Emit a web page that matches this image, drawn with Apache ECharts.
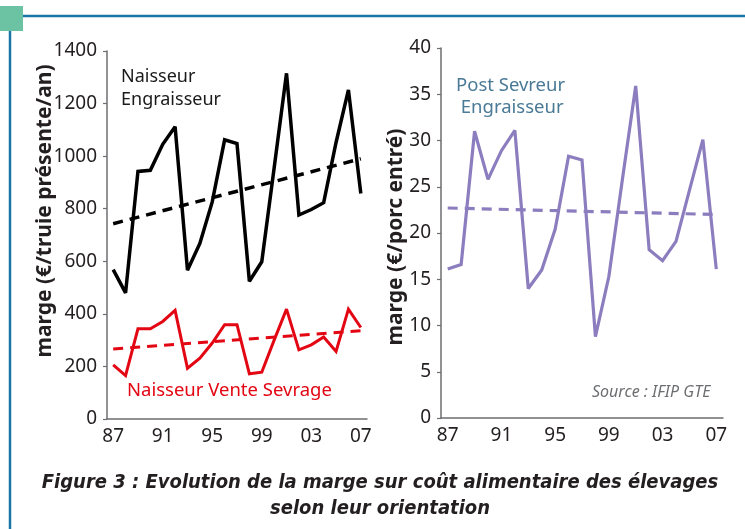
<!DOCTYPE html>
<html>
<head>
    <meta charset="utf-8">
    <title>Marge sur coût alimentaire</title>
    <style>
        html, body { margin: 0; padding: 0; background: #fff; }
        #chart { width: 745px; height: 529px; }
    </style>
</head>
<body>
    <div id="chart"></div>
    <script src="https://cdn.jsdelivr.net/npm/echarts@6/dist/echarts.min.js"></script>
    <script>
        const chart = echarts.init(document.getElementById('chart'));

        // années 1987 - 2007
        const years = ['87', '88', '89', '90', '91', '92', '93', '94', '95', '96', '97',
            '98', '99', '00', '01', '02', '03', '04', '05', '06', '07'];

        // €/truie présente/an
        const naisseurEngraisseur = [568, 480, 942, 946, 1045, 1112, 566, 668, 826, 1062, 1048,
            524, 598, 955, 1315, 776, 797, 823, 1052, 1252, 858];
        const naisseurEngraisseurTrend = [743, null, null, null, null, null, null, null, null, null, null,
            null, null, null, null, null, null, null, null, null, 990];
        const naisseurVente = [206, 165, 343, 343, 371, 413, 193, 231, 289, 359, 359,
            172, 178, 300, 418, 263, 282, 312, 257, 418, 348];
        const naisseurVenteTrend = [266, null, null, null, null, null, null, null, null, null, null,
            null, null, null, null, null, null, null, null, null, 336];

        // €/porc entré
        const postSevreur = [16.1, 16.6, 31.0, 25.8, 28.9, 31.1, 14.0, 16.0, 20.4, 28.3, 27.9,
            8.8, 15.3, 25.7, 35.9, 18.2, 17.0, 19.1, 24.6, 30.1, 16.1];
        const postSevreurTrend = [22.7, null, null, null, null, null, null, null, null, null, null,
            null, null, null, null, null, null, null, null, null, 22.0];

        const font = 'Noto Sans';
        const axisColor = '#6d6e71';
        const textColor = '#231f20';

        function xAxis(gridIndex) {
            return {
                type: 'category',
                gridIndex: gridIndex,
                data: years,
                boundaryGap: true,
                axisLine: { lineStyle: { color: axisColor, width: 1.5 } },
                axisTick: { interval: 0, length: 4, lineStyle: { color: axisColor, width: 1.2 } },
                axisLabel: { interval: 3, margin: 8, color: textColor, fontFamily: font, fontSize: 19 }
            };
        }

        function yAxis(gridIndex, max, interval) {
            return {
                type: 'value',
                gridIndex: gridIndex,
                min: 0,
                max: max,
                interval: interval,
                splitLine: { show: false },
                axisLine: { show: true, lineStyle: { color: axisColor, width: 1.5 } },
                axisTick: { show: true, length: 4, lineStyle: { color: axisColor, width: 1.2 } },
                axisLabel: {
                    margin: 10, color: textColor, fontFamily: font, fontSize: 19,
                    formatter: v => String(v)
                }
            };
        }

        function line(xi, data, color, width, dashed) {
            return {
                type: 'line',
                xAxisIndex: xi,
                yAxisIndex: xi,
                data: data,
                symbol: 'none',
                connectNulls: true,
                silent: true,
                lineStyle: {
                    color: color,
                    width: width,
                    type: dashed ? [10, 7] : 'solid',
                    join: 'miter',
                    miterLimit: 2.5,
                    cap: 'butt'
                },
                z: dashed ? 3 : 2
            };
        }

        const option = {
            backgroundColor: '#fff',
            animation: false,
            grid: [
                { left: 107, top: 51, width: 260, height: 368 },
                { left: 441, top: 48, width: 282, height: 370 }
            ],
            xAxis: [xAxis(0), xAxis(1)],
            yAxis: [yAxis(0, 1400, 200), yAxis(1, 40, 5)],
            series: [
                line(0, naisseurEngraisseur, '#000000', 3.5, false),
                line(0, naisseurEngraisseurTrend, '#000000', 3.5, true),
                line(0, naisseurVente, '#e30613', 3, false),
                line(0, naisseurVenteTrend, '#e30613', 3, true),
                line(1, postSevreur, '#8c7dbf', 3.2, false),
                line(1, postSevreurTrend, '#8c7dbf', 3.2, true)
            ],
            graphic: [
                // cadre
                { type: 'rect', shape: { x: 0, y: 6, width: 23, height: 25 }, style: { fill: '#6cc3a3' }, z: 10 },
                { type: 'line', shape: { x1: 23, y1: 16, x2: 745, y2: 16 }, style: { stroke: '#1b75a8', lineWidth: 2.5 } },
                { type: 'line', shape: { x1: 10, y1: 31, x2: 10, y2: 529 }, style: { stroke: '#1b75a8', lineWidth: 2.5 } },
                // titres des axes
                {
                    type: 'text', x: 45, y: 211, rotation: Math.PI / 2,
                    style: {
                        text: 'marge (€/truie présente/an)', fill: textColor,
                        font: 'bold 21px "Noto Sans"', align: 'center', verticalAlign: 'middle'
                    }
                },
                {
                    type: 'text', x: 396, y: 237, rotation: Math.PI / 2,
                    style: {
                        text: 'marge (€/porc entré)', fill: textColor,
                        font: 'bold 21px "Noto Sans"', align: 'center', verticalAlign: 'middle'
                    }
                },
                // étiquettes
                {
                    type: 'text', left: 121, top: 65,
                    style: { text: 'Naisseur\nEngraisseur', fill: '#1a1a1a', font: '18px "Noto Sans"', lineHeight: 23 }
                },
                {
                    type: 'text', left: 127, top: 381,
                    style: { text: 'Naisseur Vente Sevrage', fill: '#e30613', font: '18.5px "Noto Sans"' }
                },
                {
                    type: 'text', left: 456, top: 75,
                    style: { text: 'Post Sevreur\n Engraisseur', fill: '#4a7a96', font: '18.5px "Noto Sans"', lineHeight: 22 }
                },
                {
                    type: 'text', left: 592, top: 384,
                    style: { text: 'Source : IFIP GTE', fill: '#6d6e71', font: 'italic 16px "Noto Sans"' }
                },
                // légende de la figure
                {
                    type: 'text', x: 380, y: 483,
                    style: {
                        text: 'Figure 3 : Evolution de la marge sur coût alimentaire des élevages',
                        align: 'center', verticalAlign: 'middle', fill: '#231f20',
                        font: 'italic bold 20px "Liberation Sans Narrow", "DejaVu Sans Condensed", "DejaVu Sans", sans-serif'
                    }
                },
                {
                    type: 'text', x: 380, y: 509,
                    style: {
                        text: 'selon leur orientation',
                        align: 'center', verticalAlign: 'middle', fill: '#231f20',
                        font: 'italic bold 20px "Liberation Sans Narrow", "DejaVu Sans Condensed", "DejaVu Sans", sans-serif'
                    }
                }
            ]
        };

        chart.setOption(option);
    </script>
</body>
</html>
